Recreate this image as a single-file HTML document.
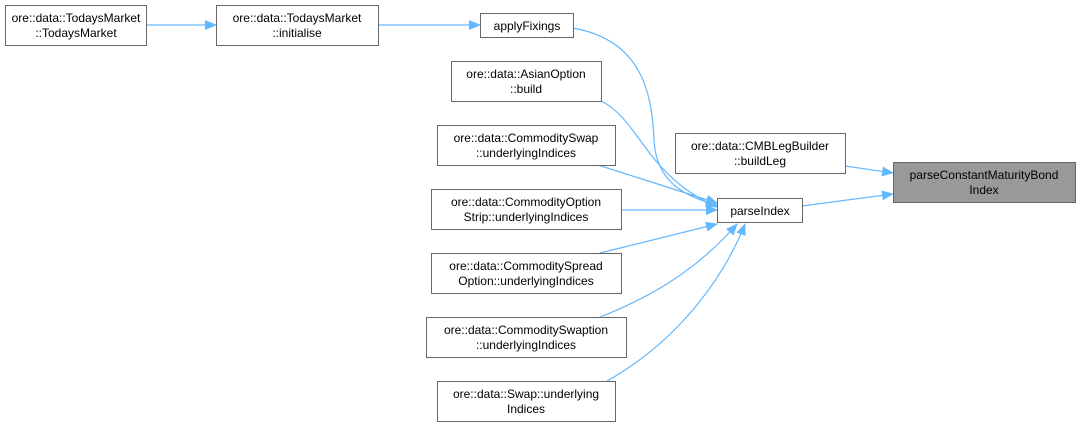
<!DOCTYPE html>
<html><head><style>body{margin:0;background:#fff}svg{display:block}text{font-family:"Liberation Sans",Arial,sans-serif;font-size:12px;fill:#000}</style></head><body>
<svg width="1081" height="428" viewBox="0 0 1081 428" xmlns="http://www.w3.org/2000/svg">
<defs><marker id="a" markerWidth="12" markerHeight="10" refX="11" refY="5" orient="auto" markerUnits="userSpaceOnUse"><path d="M0,0 L12,5 L0,10 z" fill="#63b8ff"/></marker></defs>
<g fill="none" stroke="#63b8ff" stroke-width="1.2" marker-end="url(#a)">
<path d="M146,25 L216,25"/>
<path d="M378,25 L480,25"/>
<path d="M845,166 L893,173"/>
<path d="M802,206 L893,194"/>
<path d="M573,28 C640,40 652,90 654,140 C656,185 690,198 717,205"/>
<path d="M601,101 C640,120 645,175 717,207"/>
<path d="M598,165 L717,203"/>
<path d="M621,210 L717,210"/>
<path d="M600,253 L717,224"/>
<path d="M600,317 C670,290 710,255 737,224"/>
<path d="M607,381 C680,340 725,275 745,224"/>
</g>
<g stroke="#666" stroke-width="1" fill="#fff">
<rect x="5.5" y="5.5" width="141" height="40"/>
<rect x="216.5" y="5.5" width="162" height="40"/>
<rect x="480.5" y="13.5" width="93" height="24"/>
<rect x="451.5" y="61.5" width="150" height="40"/>
<rect x="675.5" y="133.5" width="170" height="40"/>
<rect x="893.5" y="162.5" width="182" height="40" fill="#999"/>
<rect x="437.5" y="125.5" width="178" height="40"/>
<rect x="717.5" y="198.5" width="85" height="24"/>
<rect x="431.5" y="189.5" width="190" height="40"/>
<rect x="431.5" y="253.5" width="190" height="40"/>
<rect x="426.5" y="317.5" width="200" height="40"/>
<rect x="437.5" y="381.5" width="178" height="40"/>
</g>
<g text-anchor="middle">
<text x="76" y="22">ore::data::TodaysMarket</text><text x="76" y="37">::TodaysMarket</text>
<text x="297" y="22">ore::data::TodaysMarket</text><text x="297" y="37">::initialise</text>
<text x="527" y="30">applyFixings</text>
<text x="526" y="78">ore::data::AsianOption</text><text x="526" y="93">::build</text>
<text x="760" y="150">ore::data::CMBLegBuilder</text><text x="760" y="165">::buildLeg</text>
<text x="984" y="179">parseConstantMaturityBond</text><text x="984" y="194">Index</text>
<text x="526" y="142">ore::data::CommoditySwap</text><text x="526" y="157">::underlyingIndices</text>
<text x="760" y="215">parseIndex</text>
<text x="526" y="206">ore::data::CommodityOption</text><text x="526" y="221">Strip::underlyingIndices</text>
<text x="526" y="270">ore::data::CommoditySpread</text><text x="526" y="285">Option::underlyingIndices</text>
<text x="526" y="334">ore::data::CommoditySwaption</text><text x="526" y="349">::underlyingIndices</text>
<text x="526" y="398">ore::data::Swap::underlying</text><text x="526" y="413">Indices</text>
</g>
</svg>
</body></html>
